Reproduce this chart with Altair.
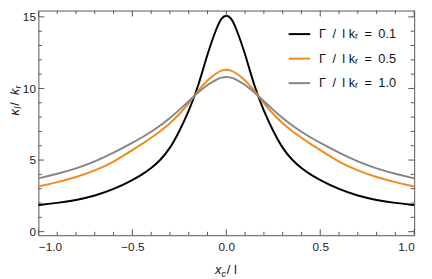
import altair as alt
import pandas as pd

# ---- data ----
x_vals = [-1.0, -0.9, -0.8, -0.7, -0.6, -0.5, -0.45, -0.4, -0.35, -0.3, -0.25, -0.2, -0.15, -0.1, -0.05, -0.025, 0.0,
          0.025, 0.05, 0.1, 0.15, 0.2, 0.25, 0.3, 0.35, 0.4, 0.45, 0.5, 0.6, 0.7, 0.8, 0.9, 1.0]
black = [1.86, 2.0, 2.2, 2.5, 2.95, 3.6, 3.97, 4.42, 5.0, 5.8, 7.0, 8.4, 10.1, 12.45, 14.3, 14.95, 15.15,
         14.95, 14.3, 12.45, 10.1, 8.4, 7.0, 5.8, 5.0, 4.42, 3.97, 3.6, 2.95, 2.5, 2.2, 2.0, 1.86]
orange = [3.16, 3.45, 3.8, 4.25, 4.85, 5.7, 6.1, 6.55, 7.02, 7.55, 8.2, 8.95, 9.85, 10.6, 11.1, 11.27, 11.32,
          11.27, 11.1, 10.6, 9.85, 8.95, 8.2, 7.55, 7.02, 6.55, 6.1, 5.7, 4.85, 4.25, 3.8, 3.45, 3.16]
gray = [3.72, 4.03, 4.4, 4.88, 5.5, 6.2, 6.57, 6.97, 7.42, 7.93, 8.5, 9.1, 9.72, 10.27, 10.65, 10.77, 10.81,
        10.77, 10.65, 10.27, 9.72, 9.1, 8.5, 7.93, 7.42, 6.97, 6.57, 6.2, 5.5, 4.88, 4.4, 4.03, 3.72]
series_labels = ["Γ\u2002/\u2002l kᵣ\u2002=\u20020.1",
                 "Γ\u2002/\u2002l kᵣ\u2002=\u20020.5",
                 "Γ\u2002/\u2002l kᵣ\u2002=\u20021.0"]
series_colors = ["#000000", "#F28A1E", "#858585"]

x_major = [-1.0, -0.5, 0.0, 0.5, 1.0]
x_minor = [-0.9, -0.8, -0.7, -0.6, -0.4, -0.3, -0.2, -0.1, 0.1, 0.2, 0.3, 0.4, 0.6, 0.7, 0.8, 0.9]
y_major = [0, 5, 10, 15]
y_minor = [1, 2, 3, 4, 6, 7, 8, 9, 11, 12, 13, 14]

# ---- layout ----
W, H = 383, 229
FRAME = "#555555"
FONT = "Liberation Sans"

rows = []
for lab, ys in zip(series_labels, [black, orange, gray]):
    for xv, yv in zip(x_vals, ys):
        rows.append({"x": xv, "y": yv, "s": lab})
df = pd.DataFrame(rows)

xs = alt.Scale(domain=[-1, 1], nice=False, zero=False)
ys_ = alt.Scale(domain=[-0.25, 15.44], nice=False, zero=False)

AX = alt.Axis(values=x_major, title=None, ticks=False, domain=False, grid=False,
              format=".1f", labelPadding=7)
AY = alt.Axis(values=y_major, title=None, ticks=False, domain=False, grid=False, format="d",
              labelPadding=3)

lines = alt.Chart(df).mark_line(strokeWidth=2, interpolate="basis").encode(
    x=alt.X("x:Q", scale=xs, axis=AX),
    y=alt.Y("y:Q", scale=ys_, axis=AY),
    color=alt.Color("s:N", sort=series_labels,
                    scale=alt.Scale(domain=series_labels, range=series_colors),
                    legend=alt.Legend(title=None, orient="none", legendX=254, legendY=12,
                                      symbolType="stroke", symbolSize=484, symbolStrokeWidth=2,
                                      labelFont=FONT, labelFontSize=13, labelColor="#111",
                                      labelOffset=8, rowPadding=6, padding=0)),
)


def xtick(vals, length, top):
    d = pd.DataFrame({"x": vals})
    if top:
        yy, yy2 = alt.value(0), alt.value(length)
    else:
        yy, yy2 = alt.value(H), alt.value(H - length)
    return alt.Chart(d).mark_rule(color=FRAME, strokeWidth=1).encode(
        x=alt.X("x:Q", scale=xs, axis=AX), y=yy, y2=yy2)


def ytick(vals, length, right):
    d = pd.DataFrame({"y": vals})
    if right:
        xx, xx2 = alt.value(W), alt.value(W - length)
    else:
        xx, xx2 = alt.value(0), alt.value(length)
    return alt.Chart(d).mark_rule(color=FRAME, strokeWidth=1).encode(
        y=alt.Y("y:Q", scale=ys_, axis=AY), x=xx, x2=xx2)


ticks = [
    xtick(x_major, 6, False), xtick(x_minor, 3.5, False),
    xtick(x_major, 6, True), xtick(x_minor, 3.5, True),
    ytick(y_major, 6, False), ytick(y_minor, 3.5, False),
    ytick(y_major, 6, True), ytick(y_minor, 3.5, True),
]


def txt(s, x, y, size=13, italic=True, angle=0):
    return alt.Chart(pd.DataFrame({"a": [0]})).mark_text(
        text=s, font=FONT, fontSize=size, fontStyle="italic" if italic else "normal",
        align="left", baseline="alphabetic", angle=angle, color="#111").encode(
        x=alt.value(x), y=alt.value(y))


titles = [
    # x title: x_c / l
    txt("x", 180, 269),
    txt("c", 186.5, 272, size=9),
    txt(" / l", 192, 269, italic=False),
    # y title: kappa_l / k_r (rotated)
    txt("κ", -20, 107, angle=270),
    txt("l", -17.5, 100, size=9, angle=270),
    txt(" / ", -20, 97, italic=False, angle=270),
    txt("k", -20, 86, angle=270),
    txt("r", -17.5, 79.5, size=9, angle=270),
]

chart = alt.layer(lines, *ticks, *titles).properties(
    width=W, height=H,
    autosize=alt.AutoSizeParams(type="none"),
    padding={"left": 31, "top": 0, "right": 10, "bottom": 42},
).configure_view(stroke=FRAME, strokeWidth=1).configure_axis(
    labelFont=FONT, labelFontSize=12, labelColor="#222"
)

chart.save("out.html", embed_options={"renderer": "svg", "actions": False})
